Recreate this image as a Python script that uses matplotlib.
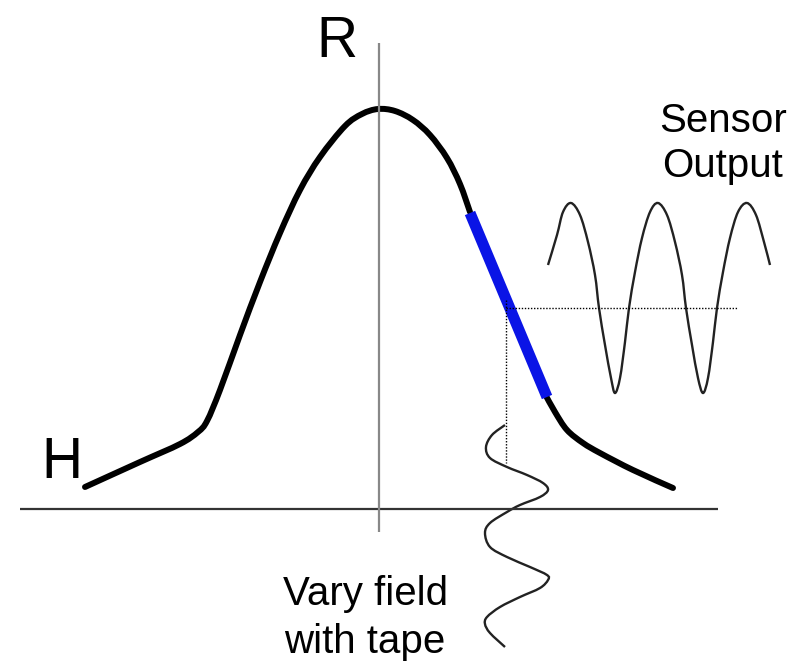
import numpy as np
import matplotlib
matplotlib.use("Agg")
import matplotlib.pyplot as plt
from matplotlib.path import Path
from matplotlib.patches import PathPatch

plt.rcParams['font.family'] = ['Liberation Sans', 'DejaVu Sans']

# points (pixel units, y grows downwards)
bell_left = [(85, 487), (140, 462), (180, 444), (198, 432), (207, 421), (220, 390),
             (240, 335), (260, 282), (280, 233), (300, 190), (320, 157), (345, 126),
             (362, 114), (378, 109), (395, 111), (413, 120), (430, 135), (447, 158),
             (460, 184), (470, 212)]
blue_part = [(470, 213), (547, 397)]
bell_right = [(545, 394), (555, 412), (567, 430), (583, 443), (600, 453),
              (633, 470), (673, 488)]

sensor = [(548, 265), (557, 235), (563, 212), (571, 203), (580, 215), (588, 242),
          (595, 275), (599, 308), (605, 345), (611, 378), (615, 393), (620, 378),
          (625, 342), (629, 308), (635, 272), (642, 238), (650, 212), (658, 203),
          (667, 215), (675, 242), (682, 275), (686, 308), (692, 345), (698, 378),
          (703, 393), (708, 378), (713, 342), (717, 308), (723, 272), (730, 238),
          (738, 212), (747, 203), (756, 215), (764, 242), (770, 265)]

field = [(505, 425), (492, 435), (486, 447), (490, 458), (507, 467), (527, 475),
         (543, 483), (548, 490), (540, 497), (520, 505), (507, 512), (490, 523),
         (485, 533), (490, 547), (507, 557), (530, 567), (547, 575), (548, 580),
         (540, 588), (520, 597), (500, 607), (487, 617), (485, 624), (490, 633),
         (505, 647)]

h_axis = [(20, 509), (718, 509)]
r_axis = [(379, 43), (379, 532)]
dot_h = [(506, 308), (737, 308)]
dot_v = [(506, 300), (506, 463)]


def smooth_path(pts):
    # Catmull-Rom through the read points, drawn as cubic Bezier pieces
    p = np.array(pts, dtype=float)
    verts = [p[0]]
    codes = [Path.MOVETO]
    for i in range(len(p) - 1):
        p0 = p[i - 1] if i > 0 else p[i]
        p1, p2 = p[i], p[i + 1]
        p3 = p[i + 2] if i + 2 < len(p) else p[i + 1]
        verts += [p1 + (p2 - p0) / 6, p2 - (p3 - p1) / 6, p2]
        codes += [Path.CURVE4] * 3
    return Path(verts, codes)


fig = plt.figure(figsize=(8.01, 6.68), dpi=100)
ax = fig.add_axes([0, 0, 1, 1])
ax.set_xlim(0, 801)
ax.set_ylim(668, 0)
ax.axis('off')

# axes
ax.plot(*zip(*h_axis), color='#333333', lw=1.6, solid_capstyle='butt')
ax.plot(*zip(*r_axis), color='#888888', lw=1.6, solid_capstyle='butt')

# bell curve
for seg in (bell_left, bell_right):
    ax.add_patch(PathPatch(smooth_path(seg), fill=False, color='black', lw=4.3,
                           capstyle='round'))
ax.plot(*zip(*blue_part), color='#0a14e6', lw=8, solid_capstyle='butt')

# sensor output and field waves
ax.add_patch(PathPatch(smooth_path(sensor), fill=False, color='#222222', lw=1.7))
ax.add_patch(PathPatch(smooth_path(field), fill=False, color='#222222', lw=1.7))

# dotted guides
ax.plot(*zip(*dot_h), color='black', lw=1.0, linestyle=(0, (1, 1.2)))
ax.plot(*zip(*dot_v), color='black', lw=1.0, linestyle=(0, (1, 1.2)))

# labels
ax.text(337, 57, 'R', fontsize=41, ha='center', va='baseline')
ax.text(62, 478, 'H', fontsize=41, ha='center', va='baseline')
ax.text(723, 132, 'Sensor', fontsize=29, ha='center', va='baseline')
ax.text(723, 177, 'Output', fontsize=29, ha='center', va='baseline')
ax.text(366, 605, 'Vary field', fontsize=29, ha='center', va='baseline')
ax.text(365, 653, 'with tape', fontsize=29, ha='center', va='baseline')

fig.savefig('out.png', dpi=100)
